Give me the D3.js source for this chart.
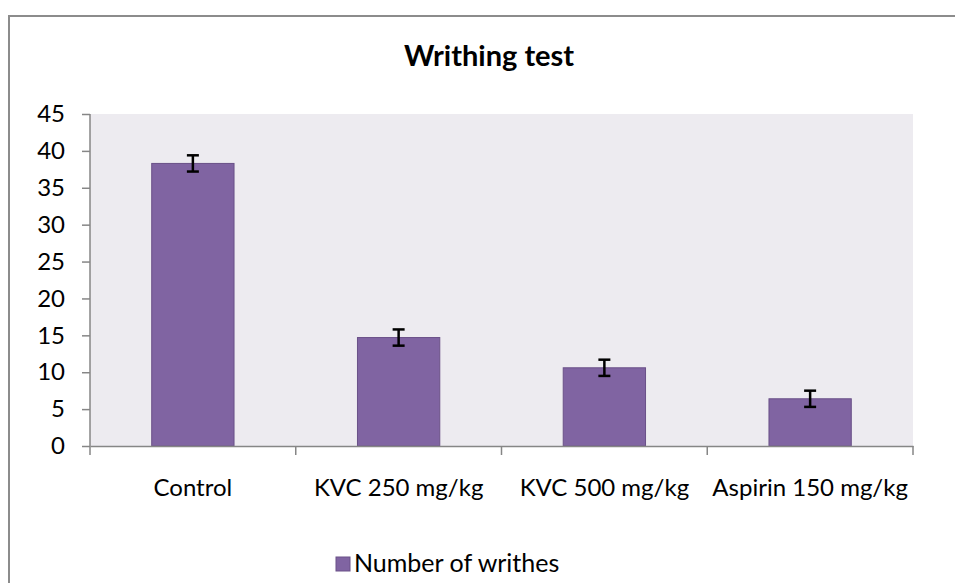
<!DOCTYPE html>
<html>
<head>
<meta charset="utf-8">
<script src="https://cdn.jsdelivr.net/npm/d3@7"></script>
<style>
  body { margin: 0; background: #fff; }
  svg text { font-family: Lato, "Open Sans", sans-serif; fill: #000; }
</style>
</head>
<body>
<div id="chart"></div>
<script>
const categories = ['Control', 'KVC 250 mg/kg', 'KVC 500 mg/kg', 'Aspirin 150 mg/kg']
const writhes = [38.3, 14.7, 10.6, 6.4]
const errors = [1.1, 1.1, 1.1, 1.1]
const yTicks = [0, 5, 10, 15, 20, 25, 30, 35, 40, 45]
const seriesName = 'Number of writhes'

const width = 955
const height = 583
const plot = { left: 90, right: 913, top: 114, bottom: 446 }

const svg = d3.select('#chart').append('svg')
    .attr('width', width)
    .attr('height', height)

// outer chart border (only left and top visible)
svg.append('path')
    .attr('d', 'M9,' + height + 'V16H' + width)
    .attr('fill', 'none')
    .attr('stroke', '#8c8c8c')
    .attr('stroke-width', 2)

svg.append('text')
    .attr('x', 489)
    .attr('y', 66)
    .attr('text-anchor', 'middle')
    .attr('font-size', 29)
    .attr('font-weight', 'bold')
    .text('Writhing test')

const x = d3.scaleBand()
    .domain(categories)
    .range([plot.left, plot.right])
    .paddingInner(0.6)
    .paddingOuter(0.3)

const xBand = d3.scaleBand()
    .domain(categories)
    .range([plot.left, plot.right])

const y = d3.scaleLinear()
    .domain([0, 45])
    .range([plot.bottom, plot.top])

// plot area
svg.append('rect')
    .attr('x', plot.left)
    .attr('y', plot.top)
    .attr('width', plot.right - plot.left)
    .attr('height', plot.bottom - plot.top)
    .attr('fill', '#edebf0')

// bars
svg.selectAll('.bar')
    .data(categories)
    .enter().append('rect')
    .attr('class', 'bar')
    .attr('x', d => x(d))
    .attr('width', x.bandwidth())
    .attr('y', (d, i) => y(writhes[i]))
    .attr('height', (d, i) => y(0) - y(writhes[i]))
    .attr('fill', '#8064a2')
    .attr('stroke', '#6a5088')
    .attr('stroke-width', 1)

// error bars
const err = svg.selectAll('.err')
    .data(categories)
    .enter().append('g')
    .attr('class', 'err')
    .attr('stroke', '#000')
    .attr('stroke-width', 2.5)
err.append('line')
    .attr('x1', d => x(d) + x.bandwidth() / 2)
    .attr('x2', d => x(d) + x.bandwidth() / 2)
    .attr('y1', (d, i) => y(writhes[i] + errors[i]))
    .attr('y2', (d, i) => y(writhes[i] - errors[i]))
err.selectAll('.cap')
    .data((d, i) => [writhes[i] + errors[i], writhes[i] - errors[i]].map(v => ({ c: d, v: v })))
    .enter().append('line')
    .attr('x1', d => x(d.c) + x.bandwidth() / 2 - 6)
    .attr('x2', d => x(d.c) + x.bandwidth() / 2 + 6)
    .attr('y1', d => y(d.v))
    .attr('y2', d => y(d.v))

// y axis
const yAxis = svg.append('g')
    .attr('transform', 'translate(' + plot.left + ',0)')
    .call(d3.axisLeft(y).tickValues(yTicks).tickSize(8).tickPadding(17))
yAxis.selectAll('text').attr('font-size', 24).attr('font-family', 'Lato').attr('fill', '#000')

// x axis
const xAxis = svg.append('g')
    .attr('transform', 'translate(0,' + plot.bottom + ')')
    .call(d3.axisBottom(xBand).tickSize(0).tickPadding(33))
xAxis.selectAll('text').attr('font-size', 24).attr('font-family', 'Lato').attr('fill', '#000')
xAxis.selectAll('.tick')
    .append('line')
    .attr('x1', -xBand.bandwidth() / 2)
    .attr('x2', -xBand.bandwidth() / 2)
    .attr('y2', 9)
xAxis.append('line')
    .attr('x1', plot.right)
    .attr('x2', plot.right)
    .attr('y2', 9)
xAxis.selectAll('line').attr('stroke', '#868686').attr('stroke-width', 1.5)

svg.selectAll('.domain').attr('stroke', '#868686').attr('stroke-width', 1.5)
yAxis.selectAll('line').attr('stroke', '#868686').attr('stroke-width', 1.5)
yAxis.select('.domain').attr('d', 'M0,' + plot.top + 'V' + plot.bottom)

// legend
const legend = svg.append('g').attr('transform', 'translate(336,557)')
legend.append('rect')
    .attr('width', 14)
    .attr('height', 14)
    .attr('fill', '#8064a2')
    .attr('stroke', '#6a5088')
legend.append('text')
    .attr('x', 18)
    .attr('y', 15)
    .attr('font-size', 25)
    .text(seriesName)
</script>
</body>
</html>
